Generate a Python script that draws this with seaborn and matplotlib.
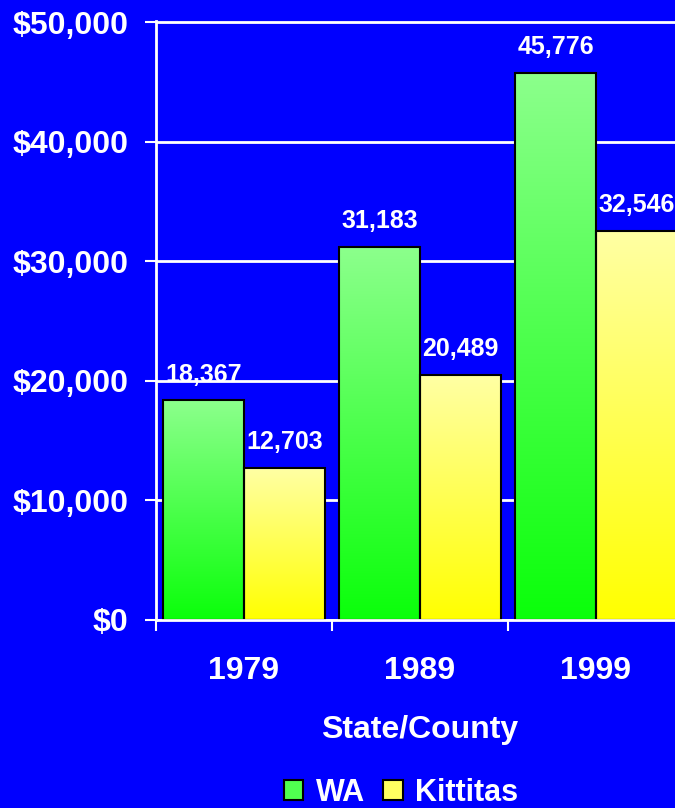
import numpy as np
import pandas as pd
import matplotlib
matplotlib.use("Agg")
import matplotlib.pyplot as plt
from matplotlib.colors import LinearSegmentedColormap
from matplotlib.patches import Patch
from matplotlib.ticker import FuncFormatter, FixedLocator
import seaborn as sns

# Data (per capita income)
years = ["1979", "1989", "1999"]
wa_income = [18367, 31183, 45776]
kittitas_income = [12703, 20489, 32546]
series_names = ["WA", "Kittitas"]

BLUE = "#0000FF"
WHITE = "white"
# (bottom colour, top colour) for the bar gradients
GRADIENTS = {
    "WA": ("#0AFF0A", "#8CFF8C"),
    "Kittitas": ("#FFFF00", "#FFFFA4"),
}


def main():
    df = pd.DataFrame({
        "year": years * 2,
        "income": wa_income + kittitas_income,
        "area": [series_names[0]] * 3 + [series_names[1]] * 3,
    })

    sns.set_style("white")
    plt.rcParams["font.family"] = ["Liberation Sans", "DejaVu Sans"]
    plt.rcParams["font.weight"] = "bold"

    fig = plt.figure(figsize=(6.75, 8.08), dpi=100)
    fig.patch.set_facecolor(BLUE)
    ax = fig.add_axes([156 / 675, 188 / 808, 528 / 675, 599 / 808])
    ax.set_facecolor(BLUE)

    palette = {k: v[0] for k, v in GRADIENTS.items()}
    sns.barplot(data=df, x="year", y="income", hue="area", order=years,
                hue_order=series_names, palette=palette, width=0.915,
                edgecolor="black", linewidth=1.5, legend=False, ax=ax,
                saturation=1)

    ax.set_xlim(-0.5, 2.5)
    ax.set_ylim(0, 50000 * 1.002)

    # gradient fill for every bar, clipped to the bar shape
    grad = np.linspace(0, 1, 256).reshape(-1, 1)
    for name, container in zip(series_names, ax.containers):
        cmap = LinearSegmentedColormap.from_list(name, GRADIENTS[name])
        for bar in container:
            x0, y0 = bar.get_x(), bar.get_y()
            w, h = bar.get_width(), bar.get_height()
            im = ax.imshow(grad, cmap=cmap, origin="lower", aspect="auto",
                           extent=(x0, x0 + w, y0, y0 + h),
                           zorder=bar.get_zorder() - 0.05)
            im.set_clip_path(bar)
            bar.set_facecolor("none")
        ax.bar_label(container, labels=[f"{v:,.0f}" for v in container.datavalues],
                     padding=10, fontsize=18, fontweight="bold", color=WHITE)

    ax.set_xlim(-0.5, 2.5)
    ax.set_ylim(0, 50000 * 1.002)

    # axes styling
    ax.set_axisbelow(True)
    ax.yaxis.set_major_locator(FixedLocator(range(0, 50001, 10000)))
    ax.yaxis.set_major_formatter(FuncFormatter(lambda v, p: f"${v:,.0f}"))
    ax.grid(axis="y", color=WHITE, linewidth=2)
    ax.grid(axis="x", visible=False)
    for side in ["top", "right"]:
        ax.spines[side].set_visible(False)
    for side in ["left", "bottom"]:
        ax.spines[side].set_color(WHITE)
        ax.spines[side].set_linewidth(2)

    ax.tick_params(axis="y", which="major", length=8, width=1.5, color=WHITE,
                   pad=12, labelsize=23, labelcolor=WHITE, left=True)
    ax.set_xticks([-0.5, 0.5, 1.5], minor=True)
    ax.tick_params(axis="x", which="minor", length=8, width=1.5, color=WHITE,
                   bottom=True)
    ax.tick_params(axis="x", which="major", length=0, pad=26, labelsize=23,
                   labelcolor=WHITE)
    for lbl in ax.get_xticklabels() + ax.get_yticklabels():
        lbl.set_fontweight("bold")

    ax.set_ylabel("")
    ax.set_xlabel("State/County", fontsize=23, fontweight="bold", color=WHITE,
                  labelpad=21)

    handles = [Patch(facecolor="#50FF50", edgecolor="black", linewidth=1.5),
               Patch(facecolor="#FFFF60", edgecolor="black", linewidth=1.5)]
    leg = fig.legend(handles, series_names, loc="center", ncol=2,
                     bbox_to_anchor=(401 / 675, 1 - 793 / 808), frameon=False,
                     fontsize=22, handlelength=0.64, handleheight=0.64,
                     handletextpad=0.4, columnspacing=0.6, borderpad=0)
    for t in leg.get_texts():
        t.set_color(WHITE)
        t.set_fontweight("bold")

    fig.savefig("out.png", dpi=100, facecolor=BLUE)


if __name__ == "__main__":
    main()
